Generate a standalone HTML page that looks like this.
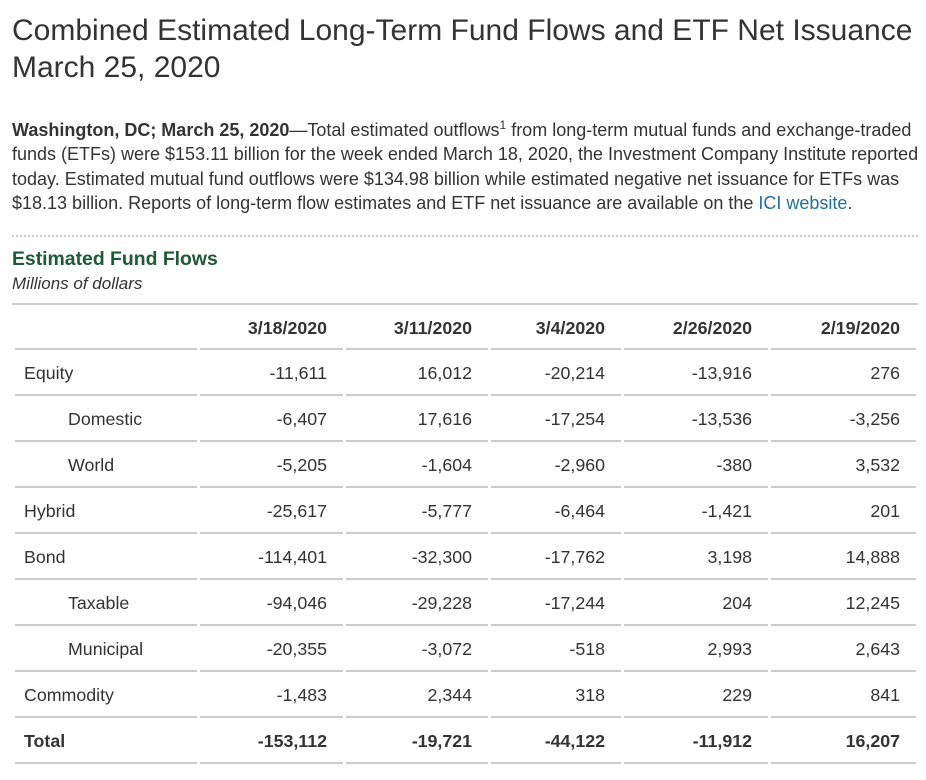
<!DOCTYPE html>
<html><head><meta charset="utf-8">
<style>
body{margin:0;width:926px;height:780px;background:#fff;font-family:"Liberation Sans",Arial,sans-serif;color:#333;position:relative;overflow:hidden}
h1{position:absolute;left:12px;top:12px;margin:0;font-weight:normal;font-size:30px;line-height:37px;color:#333;white-space:nowrap}
.p{position:absolute;left:12px;top:118px;font-size:18px;line-height:24.3px;width:915px;white-space:nowrap}
.p a{color:#1f6fa0;text-decoration:none}
.dots{position:absolute;left:12px;top:235px;width:906px;border-top:2px dotted #ccc}
h2{position:absolute;left:12px;top:248px;margin:0;font-size:19.4px;color:#1e5a36;font-weight:bold}
.sub{position:absolute;left:12px;top:274px;font-size:17px;font-style:italic}
.top{position:absolute;left:12px;top:303px;width:906px;height:2px;background:#ccc}
.row{position:absolute;left:0;width:926px;height:44px}
.c{position:absolute;top:0;height:100%;border-bottom:2px solid #ccc;box-sizing:border-box;font-size:17.8px;display:flex;align-items:center;justify-content:flex-end;padding-right:16px;padding-top:3px}
.c.l{justify-content:flex-start;padding-left:9px;padding-right:0}
.c.l.ind{padding-left:53px}
.b .c{font-weight:bold}
</style></head><body>
<h1>Combined Estimated Long-Term Fund Flows and ETF Net Issuance<br>March 25, 2020</h1>
<div class="p"><b>Washington, DC; March 25, 2020</b>—Total estimated outflows<sup style="font-size:12px;line-height:0">1</sup> from long-term mutual funds and exchange-traded<br>funds (ETFs) were $153.11 billion for the week ended March 18, 2020, the Investment Company Institute reported<br>today. Estimated mutual fund outflows were $134.98 billion while estimated negative net issuance for ETFs was<br>$18.13 billion. Reports of long-term flow estimates and ETF net issuance are available on the <a href="#">ICI website</a>.</div>
<div class="dots"></div>
<h2>Estimated Fund Flows</h2>
<div class="sub">Millions of dollars</div>
<div class="top"></div>
<div id="tbl"></div>
<script>
const headers=["","3/18/2020","3/11/2020","3/4/2020","2/26/2020","2/19/2020"];
const labels=["Equity","Domestic","World","Hybrid","Bond","Taxable","Municipal","Commodity","Total"];
const indent=[0,1,1,0,0,1,1,0,0];
const values=[
["-11,611","16,012","-20,214","-13,916","276"],
["-6,407","17,616","-17,254","-13,536","-3,256"],
["-5,205","-1,604","-2,960","-380","3,532"],
["-25,617","-5,777","-6,464","-1,421","201"],
["-114,401","-32,300","-17,762","3,198","14,888"],
["-94,046","-29,228","-17,244","204","12,245"],
["-20,355","-3,072","-518","2,993","2,643"],
["-1,483","2,344","318","229","841"],
["-153,112","-19,721","-44,122","-11,912","16,207"]];
const colL=[15,200,346,491,624,771],colR=[197,343,488,621,768,916];
const tbl=document.getElementById('tbl');
function mkRow(top,h,cells,cls,idx){
 const r=document.createElement('div');r.className='row'+(cls?' '+cls:'');
 r.style.top=top+'px';r.style.height=h+'px';
 
 
 cells.forEach((t,j)=>{const c=document.createElement('div');
  c.className='c'+(j===0?' l'+(idx>=0&&indent[idx]?' ind':''):'');
  c.style.left=colL[j]+'px';c.style.width=(colR[j]-colL[j])+'px';c.textContent=t;
  
  
  r.appendChild(c);});
 tbl.appendChild(r);}
mkRow(305,45,headers,'b',-1);
labels.forEach((l,i)=>mkRow(350+46*i,46,[l].concat(values[i]),i===8?'b':'',i));
</script>
</body></html>
